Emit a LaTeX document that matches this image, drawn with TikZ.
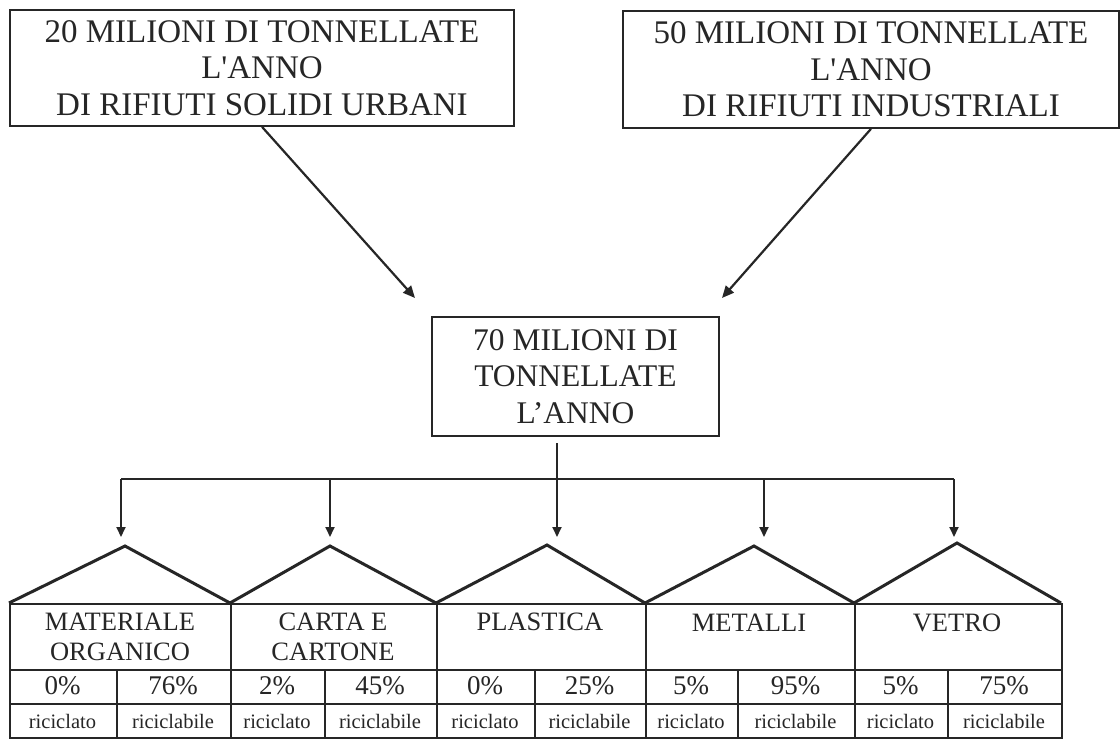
\documentclass[tikz,border=0pt]{standalone}
\usepackage{fontspec}
\setmainfont{Liberation Serif}[Ligatures=TeXOff]
\usetikzlibrary{arrows.meta}
\definecolor{ink}{HTML}{262626}
\tikzset{
  box/.style={draw=ink, line width=1.7pt, align=center, inner sep=0pt, text=ink},
  bigfont/.style={font=\fontsize{33}{36.6}\selectfont},
  midfont/.style={font=\fontsize{31.5}{36.6}\selectfont},
  conn/.style={draw=ink, line width=2.2pt, -{Triangle[length=12pt,width=10.5pt]}},
  busline/.style={draw=ink, line width=1.8pt},
  drop/.style={draw=ink, line width=1.8pt, -{Triangle[length=10pt,width=9pt]}},
  roof/.style={draw=ink, line width=3pt, line join=miter},
  cell/.style={draw=ink, line width=1.6pt, inner sep=0pt, anchor=north west},
  headtxt/.style={text=ink, inner sep=0pt, anchor=base, font=\fontsize{26.5}{30}\selectfont},
  pcttxt/.style={text=ink, inner sep=0pt, anchor=base, font=\fontsize{27}{30}\selectfont},
  smalltxt/.style={text=ink, inner sep=0pt, anchor=base, font=\fontsize{20.5}{24}\selectfont},
}
\begin{document}
\begin{tikzpicture}[x=1pt,y=-1pt]
\useasboundingbox (0,0) rectangle (1120,739);
\fill[white] (0,0) rectangle (1120,739);

% top boxes
\node[box, bigfont, minimum width=504pt, minimum height=116pt] (tl) at (262,68)
  {20 MILIONI DI TONNELLATE\\L'ANNO\\DI RIFIUTI SOLIDI URBANI};
\node[box, bigfont, minimum width=496pt, minimum height=117pt] (tr) at (871,69.5)
  {50 MILIONI DI TONNELLATE\\L'ANNO\\DI RIFIUTI INDUSTRIALI};

% middle box
\node[box, midfont, minimum width=287pt, minimum height=119pt] (mid) at (575.5,376.5)
  {70 MILIONI DI\\TONNELLATE\\L’ANNO};

% converging arrows
\coordinate (la) at (415,298);
\coordinate (ra) at (722,298);
\draw[conn] (tl.south) -- (la);
\draw[conn] (tr.south) -- (ra);

% distribution bus
\coordinate (v0) at (557,443);
\coordinate (v1) at (557,479);
\draw[busline] (v0) -- (v1);
\coordinate (b1) at (121,479);
\coordinate (b2) at (330,479);
\coordinate (b3) at (557,479);
\coordinate (b4) at (764,479);
\coordinate (b5) at (954,479);
\draw[busline] (b1) -- (b5);
\coordinate (t1) at (121,537);
\coordinate (t2) at (330,537);
\coordinate (t3) at (557,537);
\coordinate (t4) at (764,537);
\coordinate (t5) at (954,537);
\foreach \i in {1,...,5} {\draw[drop] (b\i) -- (t\i);}

% roof corners and peaks
\coordinate (c0) at (9,603);
\coordinate (c1) at (230,603);
\coordinate (c2) at (436,603);
\coordinate (c3) at (645,603);
\coordinate (c4) at (854,603);
\coordinate (c5) at (1061,603);
\coordinate (p1) at (125,546);
\coordinate (p2) at (330,546);
\coordinate (p3) at (547,545);
\coordinate (p4) at (754,546);
\coordinate (p5) at (957,543);
\draw[roof] (c0) -- (p1) -- (c1) -- (p2) -- (c2) -- (p3) -- (c3) -- (p4) -- (c4) -- (p5) -- (c5);

% table cells
\foreach \i/\xa/\xs/\xb in {1/9/116/230, 2/230/324/436, 3/436/534/645, 4/645/737/854, 5/854/947/1061} {
  \node[cell, minimum width={(\xb-\xa)*1pt}, minimum height=66pt] (h\i) at (\xa,603) {};
  \node[cell, minimum width={(\xs-\xa)*1pt}, minimum height=34pt] (pa\i) at (\xa,669) {};
  \node[cell, minimum width={(\xb-\xs)*1pt}, minimum height=34pt] (pb\i) at (\xs,669) {};
  \node[cell, minimum width={(\xs-\xa)*1pt}, minimum height=34pt] (la\i) at (\xa,703) {};
  \node[cell, minimum width={(\xb-\xs)*1pt}, minimum height=34pt] (lb\i) at (\xs,703) {};
}

% header texts
\node[headtxt] (m1a) at (120,630) {MATERIALE};
\node[headtxt] (m1b) at (120,660) {ORGANICO};
\node[headtxt] (m2a) at (333,630) {CARTA E};
\node[headtxt] (m2b) at (333,660) {CARTONE};
\node[headtxt] (m3) at (540,630) {PLASTICA};
\node[headtxt] (m4) at (749,631) {METALLI};
\node[headtxt] (m5) at (957,631) {VETRO};

% percentages
\node[pcttxt] (q1a) at (62.5,694) {0\%};
\node[pcttxt] (q1b) at (173,694) {76\%};
\node[pcttxt] (q2a) at (277,694) {2\%};
\node[pcttxt] (q2b) at (380,694) {45\%};
\node[pcttxt] (q3a) at (485,694) {0\%};
\node[pcttxt] (q3b) at (589.5,694) {25\%};
\node[pcttxt] (q4a) at (691,694) {5\%};
\node[pcttxt] (q4b) at (795.5,694) {95\%};
\node[pcttxt] (q5a) at (900.5,694) {5\%};
\node[pcttxt] (q5b) at (1004,694) {75\%};

% labels
\foreach \i/\xa/\xs/\xb in {1/9/116/230, 2/230/324/436, 3/436/534/645, 4/645/737/854, 5/854/947/1061} {
  \node[smalltxt] (r\i) at ({(\xa+\xs)/2},728) {riciclato};
  \node[smalltxt] (s\i) at ({(\xs+\xb)/2},728) {riciclabile};
}
\end{tikzpicture}
\end{document}
